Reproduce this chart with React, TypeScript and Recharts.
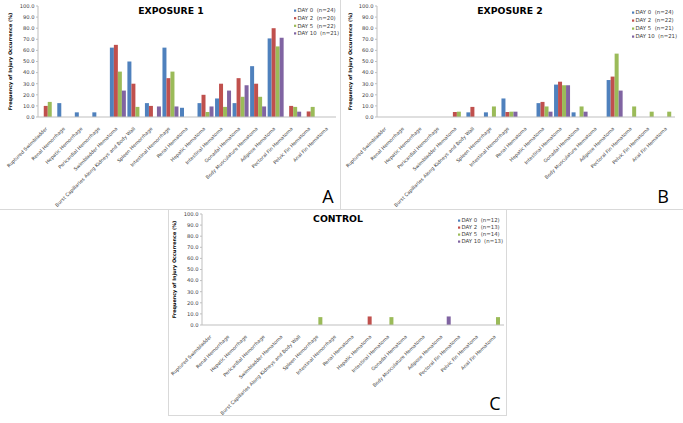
import { Bar, BarChart, Legend, XAxis, YAxis } from "recharts";

const CATEGORIES = [
  "Ruptured Swimbladder",
  "Renal Hemorrhage",
  "Hepatic Hemorrhage",
  "Pericardial Hemorrhage",
  "Swimbladder Hematoma",
  "Burst Capillaries Along Kidneys and Body Wall",
  "Spleen Hemorrhage",
  "Intestinal Hemorrhage",
  "Renal Hematoma",
  "Hepatic Hematoma",
  "Intestinal Hematoma",
  "Gonadal Hematoma",
  "Body Musculature Hematoma",
  "Adipose Hematoma",
  "Pectoral Fin Hematoma",
  "Pelvic Fin Hematoma",
  "Anal Fin Hematoma"
];

const DAYS = ["DAY 0", "DAY 2", "DAY 5", "DAY 10"];
const DAY_KEYS = ["d0", "d2", "d5", "d10"];
const COLORS = ["#4f81bd", "#c0504d", "#9bbb59", "#8064a2"];
const Y_TICKS = [0, 10, 20, 30, 40, 50, 60, 70, 80, 90, 100];

// exposure 1
const EXP1_N = [24, 20, 22, 21];
const EXP1_D0 = [0, 12.5, 4.2, 4.2, 62.5, 50, 12.5, 62.5, 8.3, 12.5, 16.7, 12.5, 45.8, 70.8, 0, 0, 0];
const EXP1_D2 = [10, 0, 0, 0, 65, 30, 10, 35, 0, 20, 30, 35, 30, 80, 10, 5, 0];
const EXP1_D5 = [13.6, 0, 0, 0, 40.9, 9.1, 0, 40.9, 0, 4.5, 9.1, 18.2, 18.2, 63.6, 9.1, 9.1, 0];
const EXP1_D10 = [0, 0, 0, 0, 23.8, 0, 9.5, 9.5, 0, 9.5, 23.8, 28.6, 9.5, 71.4, 4.8, 0, 0];

// exposure 2
const EXP2_N = [24, 22, 21, 21];
const EXP2_D0 = [0, 0, 0, 0, 0, 4.2, 4.2, 16.7, 0, 12.5, 29.2, 4.2, 0, 33.3, 0, 0, 0];
const EXP2_D2 = [0, 0, 0, 0, 4.5, 9.1, 0, 4.5, 0, 13.6, 31.8, 0, 0, 36.4, 0, 0, 0];
const EXP2_D5 = [0, 0, 0, 0, 4.8, 0, 9.5, 4.8, 0, 9.5, 28.6, 9.5, 0, 57.1, 9.5, 4.8, 4.8];
const EXP2_D10 = [0, 0, 0, 0, 0, 0, 0, 4.8, 0, 4.8, 28.6, 4.8, 0, 23.8, 0, 0, 0];

// control
const CTRL_N = [12, 13, 14, 13];
const CTRL_D0 = [0, 0, 0, 0, 0, 0, 0, 0, 0, 0, 0, 0, 0, 0, 0, 0, 0];
const CTRL_D2 = [0, 0, 0, 0, 0, 0, 0, 0, 0, 7.7, 0, 0, 0, 0, 0, 0, 0];
const CTRL_D5 = [0, 0, 0, 0, 0, 0, 7.1, 0, 0, 0, 7.1, 0, 0, 0, 0, 0, 7.1];
const CTRL_D10 = [0, 0, 0, 0, 0, 0, 0, 0, 0, 0, 0, 0, 0, 7.7, 0, 0, 0];

const FONT = "'DejaVu Sans', Verdana, sans-serif";
const TEXT_COLOR = "#404040";
const AXIS_STROKE = "#bfbfbf";
const BORDER = "#d9d9d9";

function buildRows(series: number[][]) {
  return CATEGORIES.map((name, i) => {
    const row: Record<string, string | number> = { name };
    DAY_KEYS.forEach((k, j) => {
      row[k] = series[j][i];
    });
    return row;
  });
}

function SlantTick(props: any) {
  const { x, y, payload } = props;
  return (
    <text
      x={x + 1}
      y={y + 4}
      transform={`rotate(-45 ${x + 1} ${y + 4})`}
      textAnchor="end"
      fontSize={4.8}
      fontFamily={FONT}
      fill={TEXT_COLOR}
    >
      {payload.value}
    </text>
  );
}

// legend keeps the series order (recharts sorts the payload by name)
function LegendBox({ counts, rowGap }: { counts: number[]; rowGap: number }) {
  return (
    <svg width={50} height={rowGap * 4 + 4}>
      {DAYS.map((d, i) => (
        <g key={d}>
          <rect x={0} y={i * rowGap + 1.5} width={2.2} height={2.2} fill={COLORS[i]} />
          <text
            x={3.5}
            y={i * rowGap + 4.4}
            fontSize={5.4}
            fontFamily={FONT}
            fill={TEXT_COLOR}
            style={{ whiteSpace: "pre" }}
          >
            {`${d}  (n=${counts[i]})`}
          </text>
        </g>
      ))}
    </svg>
  );
}

type PanelProps = {
  left: number;
  top: number;
  width: number;
  height: number;
  plotLeft: number;
  plotRight: number;
  plotTop: number;
  plotBottom: number;
  title: string;
  titleX: number;
  letter: string;
  letterX: number;
  letterY: number;
  ylabelX: number;
  legendX: number;
  legendY: number;
  legendGap: number;
  counts: number[];
  series: number[][];
};

function Panel(p: PanelProps) {
  const rows = buildRows(p.series);
  const midY = (p.plotTop + p.plotBottom) / 2;
  return (
    <div style={{ position: "absolute", left: p.left, top: p.top }}>
      <BarChart
        width={p.width}
        height={p.height}
        data={rows}
        margin={{ top: p.plotTop, right: p.width - p.plotRight, left: 0, bottom: 0 }}
        barCategoryGap="10%"
        barGap={0}
      >
        <XAxis
          dataKey="name"
          interval={0}
          height={p.height - p.plotBottom}
          tick={<SlantTick />}
          tickLine={false}
          axisLine={{ stroke: AXIS_STROKE }}
        />
        <YAxis
          width={p.plotLeft}
          domain={[0, 100]}
          ticks={Y_TICKS}
          interval={0}
          tickFormatter={(v: number) => v.toFixed(1)}
          tick={{ fontSize: 5.2, fontFamily: FONT, fill: TEXT_COLOR }}
          tickSize={2}
          tickMargin={1.5}
          tickLine={{ stroke: AXIS_STROKE }}
          axisLine={{ stroke: AXIS_STROKE }}
        />
        <Legend
          layout="horizontal"
          verticalAlign="middle"
          align="center"
          wrapperStyle={{ left: p.legendX, top: p.legendY, width: 50 }}
          content={() => <LegendBox counts={p.counts} rowGap={p.legendGap} />}
        />
        {DAY_KEYS.map((k, j) => (
          <Bar
            key={k}
            dataKey={k}
            name={`${DAYS[j]}  (n=${p.counts[j]})`}
            fill={COLORS[j]}
            isAnimationActive={false}
          />
        ))}
        <text
          x={p.titleX}
          y={p.plotTop + 8}
          textAnchor="middle"
          fontSize={9.3}
          fontWeight="bold"
          fontFamily={FONT}
          fill="#000"
        >
          {p.title}
        </text>
        <text
          x={p.ylabelX}
          y={midY}
          transform={`rotate(-90 ${p.ylabelX} ${midY})`}
          textAnchor="middle"
          dominantBaseline="middle"
          fontSize={4.9}
          fontWeight="bold"
          fontFamily={FONT}
          fill="#000"
        >
          Frequency of Injury Occurrence (%)
        </text>
        <text
          x={p.letterX}
          y={p.letterY}
          textAnchor="middle"
          fontSize={18}
          fontFamily="'Open Sans', sans-serif"
          fill="#000"
        >
          {p.letter}
        </text>
      </BarChart>
    </div>
  );
}

export default function App() {
  return (
    <div
      style={{
        position: "absolute",
        left: 0,
        top: 0,
        width: 683,
        height: 423,
        background: "#fff",
        overflow: "hidden"
      }}
    >
      <div style={{ position: "absolute", left: 340, top: 0, width: 1, height: 209, background: BORDER }} />
      <div style={{ position: "absolute", left: 0, top: 209, width: 683, height: 1, background: BORDER }} />
      <div
        style={{
          position: "absolute",
          left: 168,
          top: 209,
          width: 339,
          height: 207,
          boxSizing: "border-box",
          border: `1px solid ${BORDER}`
        }}
      />
      <Panel
        left={0}
        top={0}
        width={340}
        height={209}
        plotLeft={38}
        plotRight={336}
        plotTop={6}
        plotBottom={117}
        title="EXPOSURE 1"
        titleX={171}
        letter="A"
        letterX={328}
        letterY={203}
        ylabelX={11}
        legendX={294}
        legendY={8}
        legendGap={7.6}
        counts={EXP1_N}
        series={[EXP1_D0, EXP1_D2, EXP1_D5, EXP1_D10]}
      />
      <Panel
        left={340}
        top={0}
        width={343}
        height={209}
        plotLeft={37}
        plotRight={335}
        plotTop={6}
        plotBottom={117}
        title="EXPOSURE 2"
        titleX={170}
        letter="B"
        letterX={323}
        letterY={203}
        ylabelX={11}
        legendX={292}
        legendY={10}
        legendGap={8}
        counts={EXP2_N}
        series={[EXP2_D0, EXP2_D2, EXP2_D5, EXP2_D10]}
      />
      <Panel
        left={168}
        top={209}
        width={339}
        height={207}
        plotLeft={34}
        plotRight={336}
        plotTop={5}
        plotBottom={116}
        title="CONTROL"
        titleX={170}
        letter="C"
        letterX={327}
        letterY={201}
        ylabelX={7}
        legendX={290}
        legendY={9}
        legendGap={7}
        counts={CTRL_N}
        series={[CTRL_D0, CTRL_D2, CTRL_D5, CTRL_D10]}
      />
    </div>
  );
}
